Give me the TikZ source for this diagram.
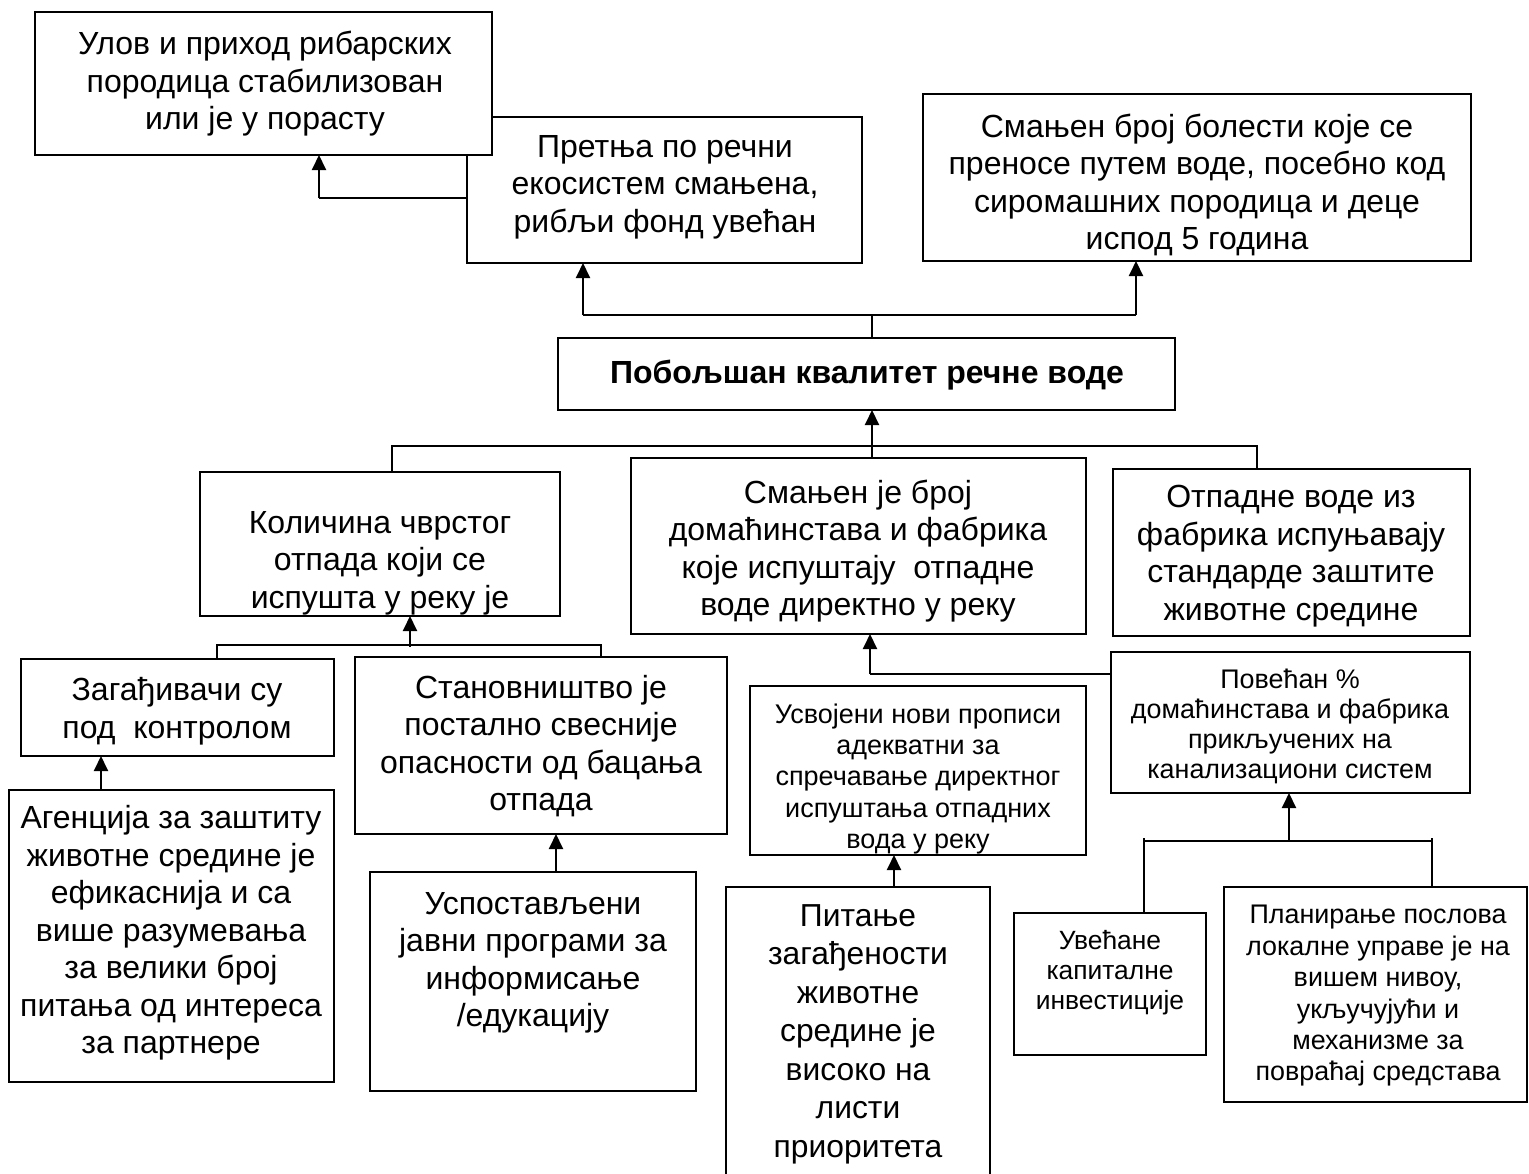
\documentclass[tikz,border=0pt]{standalone}
\usepackage{fontspec}
\setmainfont{Liberation Sans}
\usetikzlibrary{arrows.meta}
% type sizes used in the boxes
\newcommand\fsBig{\fontsize{32}{37.5}\selectfont}
\newcommand\fsTall{\fontsize{31.8}{38.5}\selectfont}
\newcommand\fsMid{\fontsize{27}{31.3}\selectfont}
\newcommand\fsSmall{\fontsize{26.9}{30}\selectfont}
\newcommand\fsInv{\fontsize{26.4}{30}\selectfont}
\newcommand\fsPlan{\fontsize{26.9}{31.4}\selectfont}
\newcommand\fsHead{\bfseries\fontsize{32}{36}\selectfont}
\tikzset{
  box/.style={draw, line width=2pt, fill=white, inner sep=0pt, outer sep=0pt, anchor=north west},
  txt/.style={align=center, inner sep=0pt, outer sep=0pt},
  conn/.style={line width=1.5pt},
  thin conn/.style={line width=1.1pt},
  arr/.style={line width=2pt, -{Triangle[length=15pt,width=14pt]}},
}
\begin{document}
\begin{tikzpicture}[x=1pt,y=1pt]
\useasboundingbox (0,0) rectangle (1529,-1173);
\clip (0,0) rectangle (1529,-1173);
\fill[white] (0,0) rectangle (1529,-1173);

% ---- outcomes at the top ----
\node[box, minimum width=395pt, minimum height=146pt] (B) at (467,-117) {};
\node[box, minimum width=457pt, minimum height=143pt] (A) at (35,-12) {};
\node[box, minimum width=548pt, minimum height=167pt] (C) at (923,-94) {};
\node[txt, font=\fsBig] (At) at (265,-84) {Улов и приход рибарских\\породица стабилизован\\или је у порасту};
\node[txt, font=\fsBig] (Bt) at (665,-187) {Претња по речни\\екосистем смањена,\\рибљи фонд увећан};
\node[txt, font=\fsBig] (Ct) at (1197,-185) {Смањен број болести које се\\преносе путем воде, посебно код\\сиромашних породица и деце\\испод 5 година};

% ---- core result ----
\node[box, minimum width=617pt, minimum height=72pt] (D) at (558,-338) {};
\node[txt, font=\fsHead] (Dt) at (867,-375) {Побољшан квалитет речне воде};

% ---- second level ----
\node[box, minimum width=360pt, minimum height=144pt] (E) at (200,-472) {};
\node[box, minimum width=455pt, minimum height=176pt] (F) at (631,-458) {};
\node[box, minimum width=357pt, minimum height=167pt] (G) at (1113,-469) {};
\node[txt, font=\fsBig] (Et) at (380,-563) {Количина чврстог\\отпада који се\\испушта у реку је};
\node[txt, font=\fsBig] (Ft) at (858,-551) {Смањен је број\\домаћинстава и фабрика\\које испуштају\ \ отпадне\\воде директно у реку};
\node[txt, font=\fsBig] (Gt) at (1291,-556) {Отпадне воде из\\фабрика испуњавају\\стандарде заштите\\животне средине};

% ---- third level ----
\node[box, minimum width=313pt, minimum height=97pt] (H) at (21,-659) {};
\node[box, minimum width=372pt, minimum height=177pt] (I) at (355,-657) {};
\node[box, minimum width=336pt, minimum height=169pt] (M) at (750,-686) {};
\node[box, minimum width=359pt, minimum height=141pt] (L) at (1111,-652) {};
\node[txt, font=\fsBig] (Ht) at (177,-711) {Загађивачи су\\под\ \ контролом};
\node[txt, font=\fsBig] (It) at (541,-746) {Становништво је\\постално свесније\\опасности од бацања\\отпада};
\node[txt, font=\fsMid] (Mt) at (918,-779) {Усвојени нови прописи\\адекватни за\\спречавање директног\\испуштања отпадних\\вода у реку};
\node[txt, font=\fsSmall] (Lt) at (1290,-726) {Повећан \%\\домаћинстава и фабрика\\прикључених на\\канализациони систем};

% ---- bottom level ----
\node[box, minimum width=325pt, minimum height=292pt] (J) at (9,-790) {};
\node[box, minimum width=326pt, minimum height=219pt] (K) at (370,-872) {};
\node[box, minimum width=264pt, minimum height=300pt] (N) at (726,-887) {};
\node[box, minimum width=192pt, minimum height=142pt] (P) at (1014,-913) {};
\node[box, minimum width=303pt, minimum height=215pt] (Q) at (1224,-887) {};
\node[txt, font=\fsBig] (Jt) at (171,-933) {Агенција за заштиту\\животне средине је\\ефикаснија и са\\више разумевања\\за велики број\\питања од интереса\\за партнере};
\node[txt, font=\fsBig] (Kt) at (533,-963) {Успостављени\\јавни програми за\\информисање\\/едукацију};
\node[txt, font=\fsTall] (Nt) at (858,-1034) {Питање\\загађености\\животне\\средине је\\високо на\\листи\\приоритета};
\node[txt, font=\fsInv] (Pt) at (1110,-973) {Увећане\\капиталне\\инвестиције};
\node[txt, font=\fsPlan] (Qt) at (1378,-996) {Планирање послова\\локалне управе је на\\вишем нивоу,\\укључујући и\\механизме за\\повраћај средстава};

% ---- connectors ----
% fish stock to catch
\draw[thin conn] ([yshift=-8pt]B.west) -- ([xshift=55.5pt,yshift=-43pt]A.south) coordinate (abend);
\draw[arr] (abend) -- ([xshift=55.5pt]A.south);
% river water quality to the two top outcomes
\draw[thin conn] ([xshift=5.5pt]D.north) -- ++(0,24) coordinate (dtop);
\draw[conn] ([xshift=-81.5pt,yshift=-52pt]B.south) coordinate (bbend) -- ([xshift=-61pt,yshift=-54pt]C.south) coordinate (cbend);
\draw[arr] (bbend) -- ([xshift=-81.5pt]B.south);
\draw[arr] (cbend) -- ([xshift=-61pt]C.south);
% second level to river water quality
\draw[conn] ([xshift=12pt]E.north) -- ++(0,26) coordinate (ebus) -- ([xshift=-34.5pt,yshift=23pt]G.north) -- ([xshift=-34.5pt]G.north);
\draw[arr] ([xshift=13.5pt]F.north) -- ([xshift=5.5pt]D.south);
% third level to solid waste
\draw[conn] ([xshift=39.5pt]H.north) -- ++(0,14) coordinate (hbus) -- ([xshift=60pt,yshift=12pt]I.north) -- ([xshift=60pt]I.north);
\draw[arr] ([xshift=30pt,yshift=-31pt]E.south) -- ([xshift=30pt]E.south);
\draw[arr] ([xshift=-70.5pt]J.north) -- ([xshift=-76.5pt]H.south);
\draw[arr] ([xshift=23pt]K.north) -- ([xshift=15pt]I.south);
% sewer connections and regulations to discharges
\draw[conn] ([yshift=48.5pt]L.west) -- ([xshift=11.5pt,yshift=-40pt]F.south) coordinate (fbend);
\draw[arr] (fbend) -- ([xshift=11.5pt]F.south);
\draw[arr] ([xshift=36pt]N.north) -- ([xshift=-24pt]M.south);
% investment and planning to sewer connections
\draw[conn] ([xshift=34pt]P.north) -- ++(0,75) coordinate (ptick);
\draw[conn] ([xshift=56.5pt]Q.north) -- ++(0,49) coordinate (qtick);
\draw[conn] ([yshift=-3pt]ptick) -- ([yshift=-3pt]qtick);
\draw[arr] ([xshift=-1.5pt,yshift=-48pt]L.south) -- ([xshift=-1.5pt]L.south);
\end{tikzpicture}
\end{document}
